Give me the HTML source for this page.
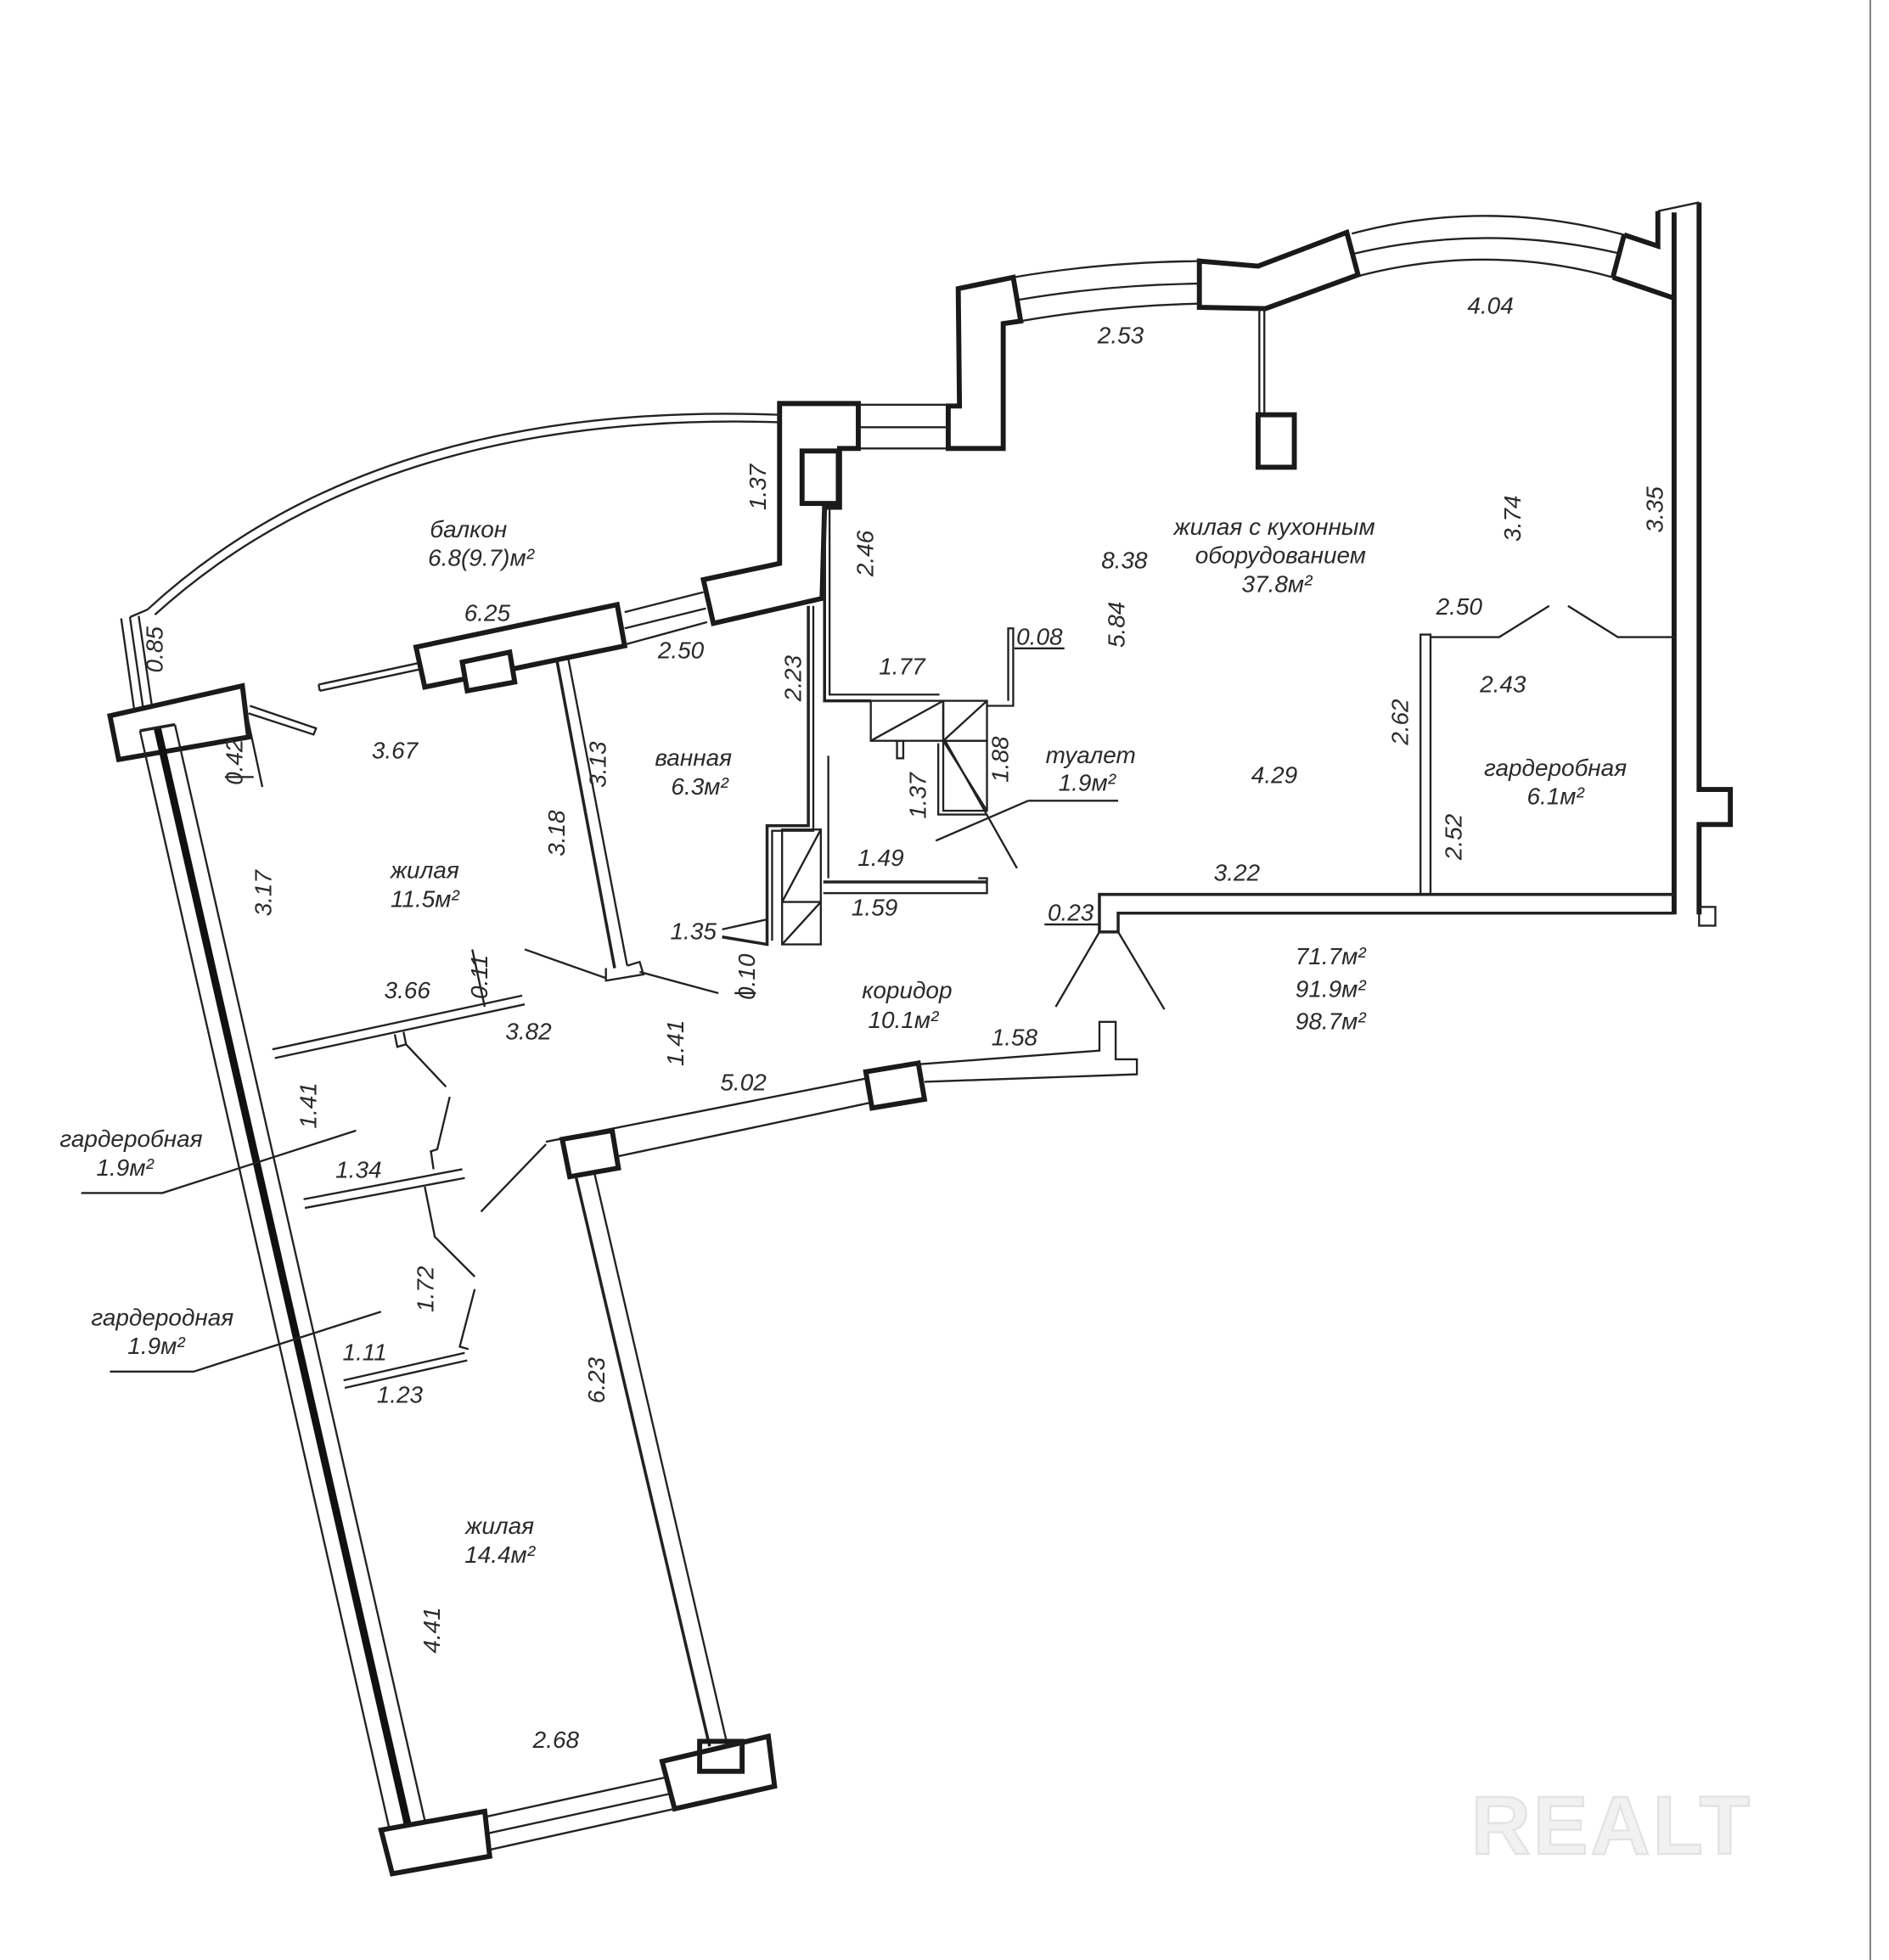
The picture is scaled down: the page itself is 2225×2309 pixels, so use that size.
<!DOCTYPE html>
<html><head><meta charset="utf-8"><style>
html,body{margin:0;padding:0;background:#fff;}
svg{display:block;}
text{font-family:"Liberation Sans","DejaVu Sans",sans-serif;font-style:italic;font-size:19px;fill:#2a2a2a;text-anchor:middle;}
.t{stroke:#1a1a1a;stroke-width:4;fill:none;stroke-linejoin:miter;}
.tw{stroke:#1a1a1a;stroke-width:4;fill:#fff;}
.n{stroke:#222;stroke-width:1.6;fill:none;}
.m{stroke:#222;stroke-width:2.4;fill:none;}
</style></head><body>
<svg width="2225" height="2309" viewBox="0 0 1512 1569" xmlns="http://www.w3.org/2000/svg">
<rect width="1512" height="1569" fill="#fff"/>
<line x1="1497" y1="0" x2="1497" y2="1569" stroke="#888" stroke-width="1.5"/>

<!-- right exterior wall -->
<path class="t" d="M1340,170 L1340,732"/>
<path class="t" d="M1360,162 L1360,632 L1385,632 L1385,660 L1360,660 L1360,732"/>
<path class="n" d="M1327,169 L1360,162"/>
<rect x="1360" y="726" width="13" height="15" class="n"/>
<!-- top right pier -->
<path class="t" d="M1300,188 L1327,197 L1327,169"/>
<path class="t" d="M1291,222 L1341,239"/>
<path class="t" d="M1300,188 L1291,222"/>
<!-- arc 4.04 -->
<path class="n" d="M1082,187 Q1190,158 1300,188"/>
<path class="n" d="M1084,203 Q1190,178 1297,203"/>
<path class="n" d="M1087,221 Q1190,194 1291,222"/>
<!-- central pier -->
<polygon class="tw" points="960,209 1007,213 1078,186 1087,220 1013,247 960,246"/>
<line class="n" x1="1008" y1="247" x2="1008" y2="332"/>
<line class="n" x1="1012" y1="247" x2="1012" y2="332"/>
<rect class="t" x="1007" y="332" width="29" height="42"/>
<!-- arc 2.53 -->
<path class="n" d="M811,222 Q880,210 960,209"/>
<path class="n" d="M815,240 Q885,228 960,227"/>
<path class="n" d="M817,257 Q885,245 960,243"/>
<!-- stepped pier -->
<polygon class="tw" points="767,231 811,222 817,257 803,259 803,359 759,359 759,325 768,325"/>
<line class="n" x1="687" y1="324" x2="759" y2="324"/>
<line class="n" x1="687" y1="342" x2="759" y2="342"/>
<line class="n" x1="687" y1="359" x2="759" y2="359"/>
<!-- pier near balcony -->
<polygon class="tw" points="624,323 687,323 687,359 672,359 672,406 660,406 658,479 571,499 563,464 624,451"/>
<rect class="t" x="642" y="361" width="29" height="42"/>
<!-- balcony arc -->
<path class="n" d="M118,488 Q300,320 624,332"/>
<path class="n" d="M124,492 Q305,328 624,338"/>
<line class="n" x1="97" y1="495" x2="108" y2="572"/>
<line class="n" x1="104" y1="494" x2="115" y2="570"/>
<line class="n" x1="111" y1="493" x2="122" y2="568"/>
<line class="n" x1="104" y1="494" x2="118" y2="488"/>
<!-- left pier -->
<polygon class="tw" points="88,573 194,549 199,590 95,608"/>
<path class="n" d="M200,565 L253,583 L251,588 L199,571"/>
<!-- long left wall -->
<line class="n" x1="112" y1="585" x2="318" y2="1492"/>
<line class="n" x1="140" y1="580" x2="347" y2="1488"/>
<line stroke="#111" stroke-width="6" x1="126" y1="583" x2="333" y2="1490"/>
<line class="m" x1="112" y1="585" x2="140" y2="580"/>
<!-- 6.25 pier -->
<polygon class="tw" points="333,518 494,484 500,517 340,550"/>
<polygon class="tw" points="370,530 408,522 412,546 374,553"/>
<path class="n" d="M255,548 L334,531 M256,553 L335,536 M255,548 L256,553"/>
<path class="n" d="M500,490 L563,474 M500,503 L565,487 M500,516 L566,498"/>
<!-- wall 3.13/3.18 -->
<line class="m" x1="446" y1="530" x2="492" y2="775"/>
<line class="n" x1="455" y1="528" x2="502" y2="773"/>
<path class="n" d="M485,775 L485,785 L515,780 L512,770 L502,773"/>
<line class="n" x1="420" y1="760" x2="485" y2="783"/>
<line class="n" x1="512" y1="778" x2="575" y2="795"/>
<!-- bathroom walls -->
<path class="m" d="M647,485 L647,661 L614,661 L614,756 L578,750"/>
<path class="n" d="M651,485 L651,665 L618,665 L618,753"/>
<path class="n" d="M578,744 L614,736"/>
<rect class="n" x="626" y="664" width="31" height="92"/>
<line class="n" x1="626" y1="722" x2="657" y2="722"/>
<line class="n" x1="626" y1="722" x2="657" y2="664"/>
<line class="n" x1="626" y1="756" x2="657" y2="722"/>
<!-- kitchen/toilet walls -->
<path class="m" d="M660,406 L660,561 L697,561"/>
<path class="n" d="M664,406 L664,556 L752,556"/>
<path class="n" d="M807,561 L807,503 L811,503 L811,565 L790,565"/>
<rect class="n" x="697" y="561" width="58" height="32"/>
<line class="n" x1="697" y1="593" x2="755" y2="561"/>
<rect class="n" x="755" y="561" width="35" height="32"/>
<line class="n" x1="755" y1="593" x2="790" y2="561"/>
<rect class="n" x="755" y="593" width="35" height="56"/>
<line class="n" x1="755" y1="593" x2="790" y2="649"/>
<path class="n" d="M751,595 L751,652 L790,652"/>
<rect class="n" x="718" y="593" width="5" height="14"/>
<line class="n" x1="663" y1="605" x2="663" y2="703"/>
<path class="m" d="M659,706 L790,706"/>
<path class="n" d="M659,715 L790,715 L790,703 L783,703"/>
<line class="n" x1="749" y1="673" x2="823" y2="641"/>
<line class="n" x1="823" y1="641" x2="895" y2="641"/>
<line class="n" x1="756" y1="592" x2="814" y2="695"/>
<!-- kitchen bottom wall -->
<path class="m" d="M1340,716 L880,716 L880,746 L895,746 L895,731 L1340,731"/>
<line class="n" x1="880" y1="746" x2="845" y2="806"/>
<line class="n" x1="895" y1="746" x2="932" y2="808"/>
<!-- wardrobe -->
<path class="n" d="M1137,716 L1137,508 L1145,508 L1145,716"/>
<path class="n" d="M1145,510 L1200,510 L1240,485"/>
<path class="n" d="M1255,485 L1295,510 L1340,510"/>
<!-- corridor bottom walls -->
<path class="n" d="M218,840 L418,797 M220,847 L420,804"/>
<path class="n" d="M316,828 L318,838 L325,836 L323,826"/>
<line class="n" x1="325" y1="836" x2="357" y2="870"/>
<path class="n" d="M360,878 L350,920 L344,922"/>
<path class="n" d="M243,960 L370,936 M244,967 L372,943"/>
<path class="n" d="M345,922 L347,936"/>
<path class="n" d="M340,950 L348,990 L380,1022"/>
<path class="n" d="M380,1032 L368,1078 L375,1080"/>
<path class="n" d="M275,1105 L372,1083 M276,1111 L374,1089"/>
<!-- corridor upper-right wall -->
<path class="n" d="M437,914 L700,862 M460,933 L700,882"/>
<polygon class="tw" points="450,912 490,905 495,935 456,942"/>
<polygon class="tw" points="693,858 735,851 740,880 698,887"/>
<path class="n" d="M735,852 L880,841 L880,818 L893,818 L893,848 L910,848 L910,860 L740,866"/>
<line class="n" x1="437" y1="916" x2="385" y2="970"/>
<!-- 14.4 room wall -->
<line class="m" x1="461" y1="942" x2="568" y2="1398"/>
<line class="n" x1="476" y1="940" x2="582" y2="1396"/>
<polygon class="tw" points="530,1410 615,1390 620,1430 540,1448"/>
<rect class="t" x="560" y="1394" width="34" height="24"/>
<path class="n" d="M386,1455 L532,1423 M389,1468 L536,1436 M391,1481 L540,1448"/>
<polygon class="tw" points="305,1465 388,1450 392,1486 314,1500"/>
<!-- leaders -->
<path class="n" d="M65,955 L130,955 L285,905"/>
<path class="n" d="M88,1098 L155,1098 L305,1050"/>
<line class="n" x1="180" y1="622" x2="203" y2="622"/>
<line class="n" x1="195" y1="560" x2="210" y2="630"/>
<line class="n" x1="812" y1="519" x2="852" y2="519"/>
<line class="n" x1="836" y1="740" x2="880" y2="740"/>
<line class="n" x1="378" y1="760" x2="388" y2="806"/>
<line class="n" x1="588" y1="795" x2="605" y2="795"/>

<!-- labels -->
<text x="897" y="275">2.53</text>
<text x="1193" y="251">4.04</text>
<text x="375" y="430">балкон</text>
<text x="385" y="453">6.8(9.7)м²</text>
<text transform="translate(613,390) rotate(-90)">1.37</text>
<text transform="translate(699,443) rotate(-90)">2.46</text>
<text x="1020" y="428">жилая с кухонным</text>
<text x="1025" y="451">оборудованием</text>
<text x="1022" y="474">37.8м²</text>
<text x="900" y="455">8.38</text>
<text transform="translate(1217,415) rotate(-90)">3.74</text>
<text transform="translate(1331,408) rotate(-90)">3.35</text>
<text transform="translate(130,520) rotate(-90)">0.85</text>
<text x="390" y="497">6.25</text>
<text x="545" y="527">2.50</text>
<text transform="translate(900,500) rotate(-90)">5.84</text>
<text x="832" y="516">0.08</text>
<text x="1168" y="492">2.50</text>
<text x="722" y="540">1.77</text>
<text transform="translate(641,543) rotate(-90)">2.23</text>
<text x="1203" y="554">2.43</text>
<text transform="translate(194,610) rotate(-90)">0.42</text>
<text x="316" y="607">3.67</text>
<text x="555" y="613">ванная</text>
<text x="560" y="636">6.3м²</text>
<text transform="translate(485,612) rotate(-90)">3.13</text>
<text transform="translate(452,667) rotate(-90)">3.18</text>
<text x="873" y="611">туалет</text>
<text x="870" y="633">1.9м²</text>
<text transform="translate(807,608) rotate(-90)">1.88</text>
<text transform="translate(741,637) rotate(-90)">1.37</text>
<text transform="translate(1127,578) rotate(-90)">2.62</text>
<text x="1245" y="621">гардеробная</text>
<text x="1245" y="644">6.1м²</text>
<text x="1020" y="627">4.29</text>
<text transform="translate(1170,670) rotate(-90)">2.52</text>
<text x="340" y="703">жилая</text>
<text x="340" y="726">11.5м²</text>
<text transform="translate(217,715) rotate(-90)">3.17</text>
<text x="705" y="693">1.49</text>
<text x="990" y="705">3.22</text>
<text x="700" y="733">1.59</text>
<text x="857" y="737">0.23</text>
<text x="555" y="752">1.35</text>
<text transform="translate(604,782) rotate(-90)">0.10</text>
<text x="1065" y="772">71.7м²</text>
<text x="1065" y="798">91.9м²</text>
<text x="1065" y="824">98.7м²</text>
<text x="326" y="799">3.66</text>
<text transform="translate(390,782) rotate(-90)">0.11</text>
<text x="726" y="799">коридор</text>
<text x="723" y="823">10.1м²</text>
<text x="423" y="832">3.82</text>
<text transform="translate(547,835) rotate(-90)">1.41</text>
<text x="812" y="837">1.58</text>
<text x="595" y="873">5.02</text>
<text transform="translate(253,885) rotate(-90)">1.41</text>
<text x="105" y="918">гардеробная</text>
<text x="100" y="941">1.9м²</text>
<text x="287" y="943">1.34</text>
<text transform="translate(347,1032) rotate(-90)">1.72</text>
<text x="130" y="1061">гардеродная</text>
<text x="125" y="1084">1.9м²</text>
<text x="292" y="1089">1.11</text>
<text x="320" y="1123">1.23</text>
<text transform="translate(484,1105) rotate(-90)">6.23</text>
<text x="400" y="1228">жилая</text>
<text x="400" y="1251">14.4м²</text>
<text transform="translate(352,1305) rotate(-90)">4.41</text>
<text x="445" y="1399">2.68</text>
<text x="1290" y="1484" style="font-size:66px;font-style:normal;font-weight:bold;fill:#f1f1f1;stroke:#e2e2e2;stroke-width:1.5;letter-spacing:2px">REALT</text>
</svg>
</body></html>
